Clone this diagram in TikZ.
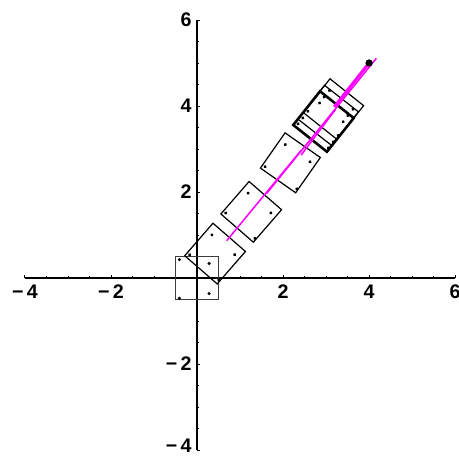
\documentclass[tikz,border=0pt]{standalone}
\usepackage{fontspec}
\setmainfont{Liberation Sans}
\usepackage{tikz}
\definecolor{PathMagenta}{RGB}{255,0,255}
\definecolor{FrameGray}{RGB}{60,60,60}

% one square block with its four marker dots (centre x, centre y, angle, line style)
\newcommand{\blockat}[4]{%
  \begin{scope}[shift={(#1,#2)}, rotate=#3]
    \draw[#4] (-0.5,-0.5) rectangle (0.5,0.5);
    \foreach \p in {(-0.41,0.43),(0.28,0.34),(-0.41,-0.47),(0.28,-0.36)}
      \fill \p circle (0.04);
  \end{scope}}

\begin{document}
\begin{tikzpicture}[font=\fontsize{13}{15}\selectfont\bfseries,
    axis/.style={line width=1.1pt},
    tick/.style={line width=0.6pt},
    blk/.style={line width=0.8pt},
    blkthick/.style={line width=1.7pt},
    traj/.style={PathMagenta, line width=1pt}]
    \useasboundingbox (-4.58,-4.116) rectangle (6.09,6.465);

    % axes
    \draw[axis] (-4,0) -- (6,0);
    \draw[axis] (0,-4) -- (0,6);

    % ticks and labels
    \foreach \t in {-4,-3.5,...,6} {
        \draw[tick] (\t,0) -- (\t,0.05);
        \draw[tick] (0,\t) -- (0.05,\t);
    }
    \foreach \t/\l in {-4/−\,4, -2/−\,2, 2/2, 4/4, 6/6} {
        \draw[tick] (\t,0) -- (\t,0.08);
        \draw[tick] (0,\t) -- (0.08,\t);
        \node[anchor=north, inner sep=0pt] (xl\t) at (\t,-0.15) {\l};
    }
    \foreach \t/\l in {-2/−\,2, 2/2, 4/4, 6/6}
        \node[anchor=east, inner sep=0pt] (yl\t) at (-0.12,\t) {\l};
    \node[anchor=south east, inner sep=0pt] (yl-4) at (-0.12,-4.05) {−\,4};

    % blocks along the path
    \blockat{0}{0}{0}{blk, FrameGray}
    \blockat{0.42}{0.57}{49}{blk}
    \blockat{1.26}{1.54}{49}{blk}
    \blockat{2.17}{2.68}{55}{blk}
    \blockat{2.94}{3.64}{51.5}{blkthick}
    \blockat{3.05}{3.78}{52}{blk}
    \blockat{3.17}{3.93}{51.4}{blk}

    % trajectory
    \draw[traj] (0.69,0.87) -- (2.42,2.97);
    \draw[traj] (1.62,1.97) -- (4.17,5.11);
    \draw[traj] (2.42,2.86) -- (3.22,3.92);
    \draw[traj, line width=2pt] (3.19,3.98) -- (3.96,4.95);

    % target point
    \fill (4,5) circle (0.085);
\end{tikzpicture}
\end{document}
